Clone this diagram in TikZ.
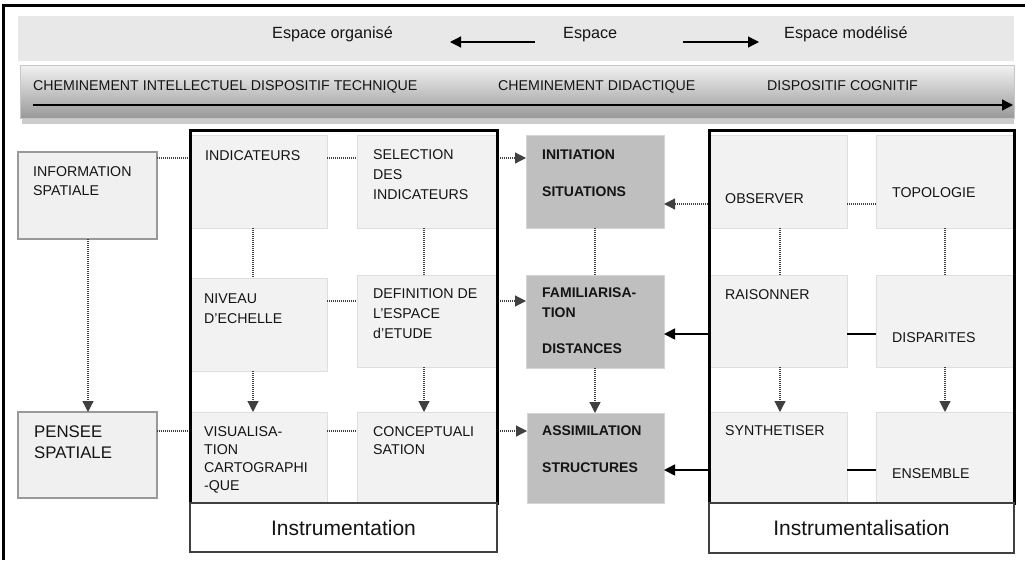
\documentclass[tikz,border=0pt]{standalone}
\usepackage{fontspec}
\setmainfont{Liberation Sans}
\usetikzlibrary{arrows.meta,calc}
\newcommand\mylines[1]{\begin{tabular}[t]{@{}l@{}}#1\end{tabular}}
\newcommand\bx[6]{\node[#1, anchor=north west, minimum width={(#5)-(#3)}, minimum height={(#6)-(#4)}] (#2) at (#3,#4) {};}
\tikzset{
  ibox/.style={draw=black!13, fill=black!5, line width=1pt, inner sep=0pt, outer sep=0pt},
  sbox/.style={draw=black!40, fill=black!6, line width=1.5pt, inner sep=0pt, outer sep=0pt},
  dbox/.style={draw=black!17, fill=black!25, line width=1pt, inner sep=0pt, outer sep=0pt},
  frame/.style={draw=black, line width=3pt, inner sep=0pt, outer sep=0pt},
  lblbox/.style={draw=black!75, fill=white, line width=1.2pt, inner sep=0pt, outer sep=0pt, font=\fontsize{21}{25}\selectfont, text=black!92},
  txt/.style={anchor=base west, inner sep=0pt, text=black!92, font=\fontsize{14.2}{20}\selectfont},
  btxt/.style={txt, font=\fontsize{14}{20}\selectfont\bfseries},
  dconn/.style={draw=black!75, line width=1.2pt, dash pattern=on 1pt off 1pt},
  sconn/.style={draw=black, line width=1.5pt},
  arr/.style={-{Triangle[length=11pt,width=11pt]}},
}
\begin{document}
\begin{tikzpicture}[x=1pt,y=-1pt]
\useasboundingbox (0,0) rectangle (1025,560);
% outer frame (top and left)
\draw[line width=3pt] (3,560) -- (3,5) -- (1025,5);
% top band
\fill[black!9] (18,16) rectangle (1014,61);
\node[anchor=base west, inner sep=0pt, font=\fontsize{16.2}{19}\selectfont, text=black!92] (eorg) at (272,38) {Espace organisé};
\node[anchor=base west, inner sep=0pt, font=\fontsize{16.2}{19}\selectfont, text=black!92] (esp) at (563,38) {Espace};
\node[anchor=base west, inner sep=0pt, font=\fontsize{16.2}{19}\selectfont, text=black!92] (emod) at (784,38) {Espace modélisé};
\coordinate (a1s) at (535,42);
\coordinate (a1e) at (450,42);
\coordinate (a2s) at (683,42);
\coordinate (a2e) at (759,42);
\draw[line width=1.2pt, arr] (a1s) -- (a1e);
\draw[line width=1.2pt, arr] (a2s) -- (a2e);
% second band
\fill[black!20] (22,117) rectangle (1014,124);
\shade[top color=black!5, middle color=black!13, bottom color=black!40] (20,65) rectangle (1014,118);
\draw[black!22, line width=0.8pt] (20,65) rectangle (1014,118);
\node[txt] (b2a) at (33,90) {CHEMINEMENT INTELLECTUEL DISPOSITIF TECHNIQUE};
\node[txt] (b2b) at (498,90) {CHEMINEMENT DIDACTIQUE};
\node[txt] (b2c) at (767,90) {DISPOSITIF COGNITIF};
\coordinate (b2s) at (33,105);
\coordinate (b2e) at (1013,105);
\draw[line width=1.3pt, arr] (b2s) -- (b2e);
% boxes
\bx{sbox}{info}{18}{152}{157}{239}
\bx{sbox}{pens}{18}{412}{157}{498}
\bx{ibox}{indic}{191}{135}{327}{228}
\bx{ibox}{sel}{357}{135}{496}{228}
\bx{ibox}{niv}{191}{278}{327}{371}
\bx{ibox}{def}{357}{275}{496}{367}
\bx{ibox}{visu}{191}{412}{327}{502}
\bx{ibox}{conc}{357}{412}{496}{502}
\bx{dbox}{init}{526}{135}{664}{228}
\bx{dbox}{fam}{526}{275}{664}{368}
\bx{dbox}{assim}{527}{413}{664}{503}
\bx{ibox}{obs}{710}{135}{847}{228}
\bx{ibox}{topo}{876}{135}{1013}{228}
\bx{ibox}{rais}{710}{275}{847}{367}
\bx{ibox}{disp}{876}{275}{1013}{367}
\bx{ibox}{synth}{710}{412}{847}{502}
\bx{ibox}{ens}{876}{412}{1013}{502}
% helper rows and columns
\coordinate (r1) at (0,158);
\coordinate (r1b) at (0,204);
\coordinate (r2) at (0,301);
\coordinate (r2b) at (0,334);
\coordinate (r3) at (0,431);
\coordinate (r3b) at (0,470);
\coordinate (c0) at (88,0);
\coordinate (c1) at (253,0);
\coordinate (c2) at (424,0);
\coordinate (c3) at (595,0);
\coordinate (c4) at (780,0);
\coordinate (c5) at (945,0);
% connectors
\draw[dconn] (info.east |- r1) -- (indic.west |- r1);
\draw[dconn] (indic.east |- r1) -- (sel.west |- r1);
\draw[dconn,arr] (sel.east |- r1) -- (init.west |- r1);
\draw[dconn] (indic.south -| c1) -- (niv.north -| c1);
\draw[dconn] (sel.south -| c2) -- (def.north -| c2);
\draw[dconn] (niv.east |- r2) -- (def.west |- r2);
\draw[dconn,arr] (def.east |- r2) -- (fam.west |- r2);
\draw[dconn,arr] (niv.south -| c1) -- (visu.north -| c1);
\draw[dconn,arr] (def.south -| c2) -- (conc.north -| c2);
\draw[dconn,arr] (info.south -| c0) -- (pens.north -| c0);
\draw[dconn] (pens.east |- r3) -- (visu.west |- r3);
\draw[dconn] (visu.east |- r3) -- (conc.west |- r3);
\draw[dconn,arr] (conc.east |- r3) -- (assim.west |- r3);
\draw[dconn] (init.south -| c3) -- (fam.north -| c3);
\draw[dconn,arr] (fam.south -| c3) -- (assim.north -| c3);
\draw[dconn,arr] (obs.west |- r1b) -- (init.east |- r1b);
\draw[dconn] (obs.east |- r1b) -- (topo.west |- r1b);
\draw[dconn] (obs.south -| c4) -- (rais.north -| c4);
\draw[dconn] (topo.south -| c5) -- (disp.north -| c5);
\draw[sconn,arr] (rais.west |- r2b) -- (fam.east |- r2b);
\draw[sconn] (rais.east |- r2b) -- (disp.west |- r2b);
\draw[dconn,arr] (rais.south -| c4) -- (synth.north -| c4);
\draw[dconn,arr] (disp.south -| c5) -- (ens.north -| c5);
\draw[sconn,arr] (synth.west |- r3b) -- (assim.east |- r3b);
\draw[sconn] (synth.east |- r3b) -- (ens.west |- r3b);
% frames
\bx{frame}{instr}{190}{130}{497}{503}
\bx{frame}{instrl}{709}{130}{1014}{503}
\node[lblbox, anchor=north west, minimum width=307, minimum height=49] (instrlab) at (190,503) {Instrumentation};
\node[lblbox, anchor=north west, minimum width=305, minimum height=50] (instrllab) at (709,503) {Instrumentalisation};
% texts
\node[txt, font=\fontsize{14.2}{19}\selectfont] (t-info) at (33,176) {\mylines{INFORMATION\\SPATIALE}};
\node[txt, font=\fontsize{16.8}{21}\selectfont] (t-pens) at (34,437) {\mylines{PENSEE\\SPATIALE}};
\node[txt] (t-indic) at (205,160) {\mylines{INDICATEURS}};
\node[txt] (t-sel) at (373,159) {\mylines{SELECTION\\DES\\INDICATEURS}};
\node[txt] (t-niv) at (204,303) {\mylines{NIVEAU\\D'ECHELLE}};
\node[txt] (t-def) at (373,298) {\mylines{DEFINITION DE\\L'ESPACE\\d'ETUDE}};
\node[txt, font=\fontsize{14.2}{18}\selectfont] (t-visu) at (204,436) {\mylines{VISUALISA-\\TION\\CARTOGRAPHI\\-QUE}};
\node[txt, font=\fontsize{14.2}{18}\selectfont] (t-conc) at (373,436) {\mylines{CONCEPTUALI\\SATION}};
\node[btxt] (t-init) at (542,159) {\mylines{INITIATION\\[17pt]SITUATIONS}};
\node[btxt] (t-fam) at (542,297) {\mylines{FAMILIARISA-\\TION\\[16pt]DISTANCES}};
\node[btxt] (t-assim) at (542,435) {\mylines{ASSIMILATION\\[17pt]STRUCTURES}};
\node[txt] (t-obs) at (725,203) {\mylines{OBSERVER}};
\node[txt] (t-topo) at (892,197) {\mylines{TOPOLOGIE}};
\node[txt] (t-rais) at (725,299) {\mylines{RAISONNER}};
\node[txt] (t-disp) at (892,342) {\mylines{DISPARITES}};
\node[txt] (t-synth) at (725,435) {\mylines{SYNTHETISER}};
\node[txt] (t-ens) at (892,478) {\mylines{ENSEMBLE}};
\end{tikzpicture}
\end{document}
